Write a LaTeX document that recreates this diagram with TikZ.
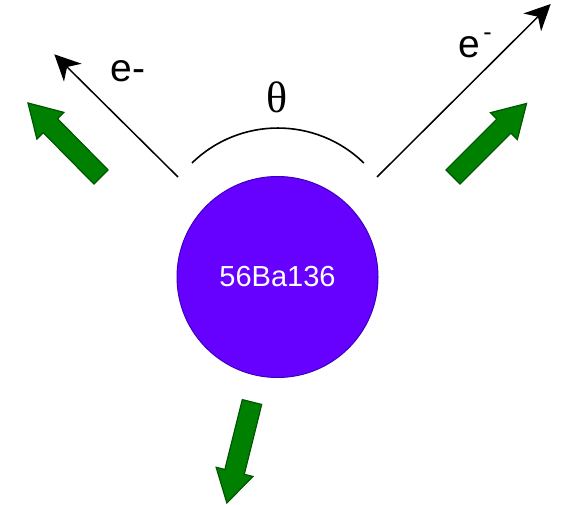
\documentclass[tikz,border=0pt]{standalone}
\usepackage{fontspec}
\setmainfont{Liberation Sans}
\newfontfamily\thetafont{Liberation Serif}
\usetikzlibrary{arrows.meta}
\definecolor{ballfill}{RGB}{102,0,255}
\definecolor{balldraw}{RGB}{60,0,190}
\definecolor{arrowgreen}{RGB}{0,128,0}
\definecolor{arrowgreendark}{RGB}{0,85,0}
\tikzset{
  elec/.style={line width=1.5pt, -{Stealth[length=26pt,width=25pt,inset=8pt]}},
  arcline/.style={line width=1.6pt},
  greenarrow/.style={fill=arrowgreen, draw=arrowgreendark, line width=1.2pt, line join=miter},
  lbl/.style={inner sep=0pt, font=\fontsize{39}{39}\selectfont},
  ball/.style={circle, minimum size=201pt, inner sep=0pt, fill=ballfill, draw=balldraw, line width=1pt,
    text=white, font=\fontsize{29}{29}\selectfont}
}
\newcommand{\greenshape}{(0,-10) -- (72,-10) -- (72,-19) -- (104,0) -- (72,19) -- (72,10) -- (0,10) -- cycle}
\begin{document}
\begin{tikzpicture}[x=1pt,y=-1pt]
\useasboundingbox (0,0) rectangle (564,505);
% nucleus
\node[ball] (ba) at (277.5,277) {56Ba136};
% electrons
\coordinate (lstart) at (178,177);
\coordinate (ltip) at (54.3,54.3);
\coordinate (rstart) at (377,177);
\coordinate (rtip) at (550.7,4);
\draw[elec] (lstart) -- (ltip);
\draw[elec] (rstart) -- (rtip);
\node[lbl, anchor=base west] (le) at (110.5,82) {e-};
\node[lbl, anchor=base west] (re) at (458.5,58) {e\hspace{3pt}\raisebox{17pt}{\fontsize{25}{25}\selectfont -}};
% angle
\coordinate (arcS) at (192,163);
\draw[arcline] (arcS) arc[start angle=134.3, end angle=45.7, radius=123pt];
\node[inner sep=0pt, anchor=base, font=\fontsize{44}{44}\selectfont\thetafont] (theta) at (277,113) {θ};
% spin arrows
\path[greenarrow, shift={(101,177)}, rotate=134.6] \greenshape;
\path[greenarrow, shift={(453,177)}, rotate=45] \greenshape;
\path[greenarrow, shift={(252,402)}, rotate=-104] \greenshape;
\end{tikzpicture}
\end{document}
